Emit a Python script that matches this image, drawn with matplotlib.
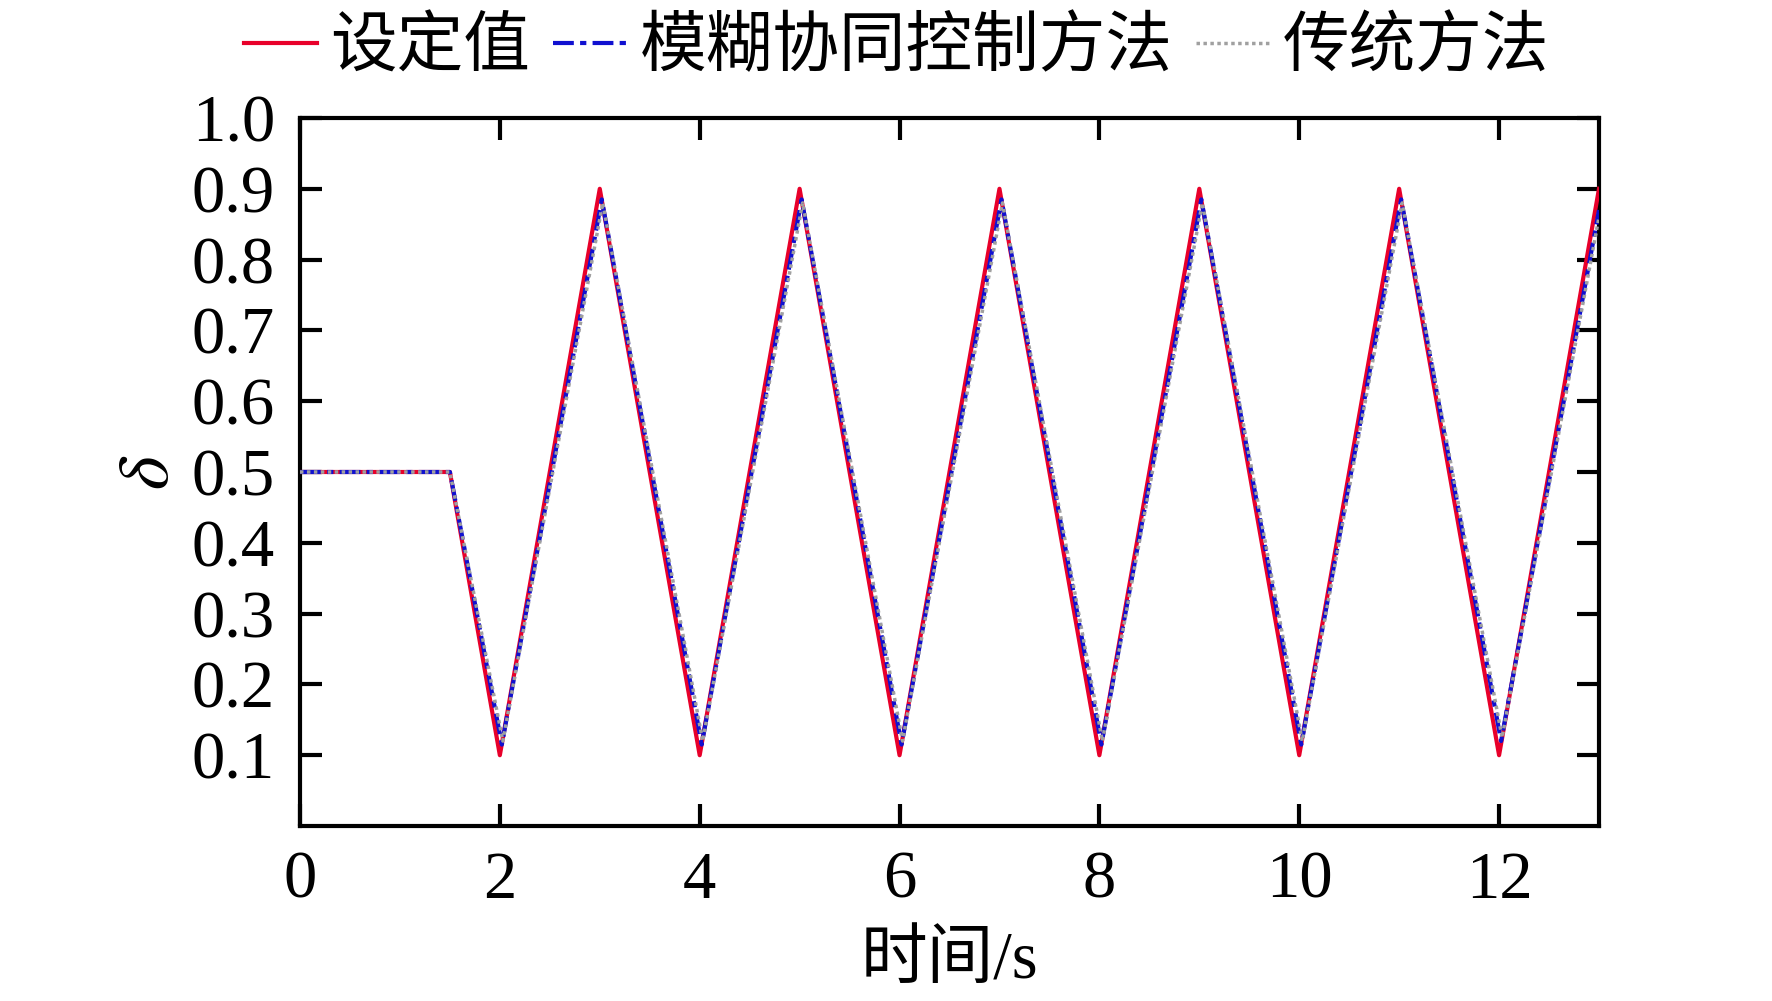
import matplotlib
matplotlib.use("Agg")
import matplotlib.pyplot as plt

plt.rcParams["font.family"] = ["Liberation Serif", "Noto Sans CJK SC"]
plt.rcParams["mathtext.fontset"] = "stix"

# setpoint: hold at 0.5, then triangle 0.1 <-> 0.9
t_set = [0, 1.5, 2, 3, 4, 5, 6, 7, 8, 9, 10, 11, 12, 13]
d_set = [0.5, 0.5, 0.1, 0.9, 0.1, 0.9, 0.1, 0.9, 0.1, 0.9, 0.1, 0.9, 0.1, 0.9]

# fuzzy coordinated control: slight lag, peaks a bit lower
t_fuzzy = [0, 1.5, 2.02, 3.02, 4.02, 5.02, 6.02, 7.02, 8.02, 9.02, 10.02, 11.02, 12.02, 13.0]
d_fuzzy = [0.5, 0.5, 0.115, 0.885, 0.115, 0.885, 0.115, 0.885, 0.115, 0.885, 0.115, 0.885, 0.12, 0.87]

# traditional method: a little more lag
t_trad = [0, 1.5, 2.03, 3.03, 4.03, 5.03, 6.03, 7.03, 8.03, 9.03, 10.03, 11.03, 12.03, 13.0]
d_trad = [0.5, 0.5, 0.12, 0.88, 0.12, 0.88, 0.12, 0.88, 0.12, 0.88, 0.12, 0.88, 0.125, 0.86]

xticks = [0, 2, 4, 6, 8, 10, 12]
yticks = [0.1, 0.2, 0.3, 0.4, 0.5, 0.6, 0.7, 0.8, 0.9, 1.0]

fig = plt.figure(figsize=(17.72, 10.01), dpi=100)
ax = fig.add_axes([300 / 1772, 1 - 826 / 1001, 1299 / 1772, 708 / 1001])

ax.plot(t_set, d_set, color="#e8002a", lw=3, label="设定值", zorder=3)
ax.plot(t_fuzzy, d_fuzzy, color="#1010d0", lw=3, ls=(0, (5, 1.5, 1.5, 1.5)), label="模糊协同控制方法", zorder=4)
ax.plot(t_trad, d_trad, color="#a0a0a0", lw=2.5, ls=(0, (1, 1)), label="传统方法", zorder=5)

ax.set_xlim(0, 13)
ax.set_ylim(0, 1.0)
ax.set_xticks(xticks)
ax.set_yticks(yticks)
ax.set_yticklabels([f"{v:.1f}" for v in yticks])
ax.tick_params(direction="in", length=16, width=3, labelsize=48, top=True, right=True)
ax.tick_params(axis="x", pad=18)
ax.tick_params(axis="y", pad=18)
for s in ax.spines.values():
    s.set_linewidth(3)

ax.set_xlabel("时间/s", fontsize=48, labelpad=14)
ax.set_ylabel(r"$\delta$", fontsize=52, labelpad=6)

fig.legend(loc="center", bbox_to_anchor=(0.506, 1 - 49 / 1001), ncol=3, frameon=False,
           fontsize=48, handlelength=1.1, handletextpad=0.2, columnspacing=0.35)

fig.savefig("out.png", dpi=100, facecolor="white")
